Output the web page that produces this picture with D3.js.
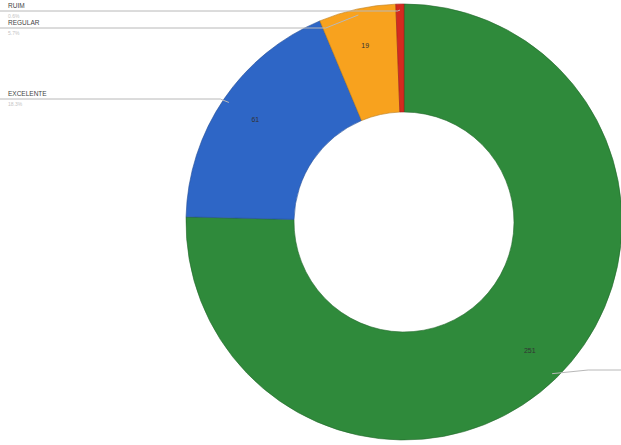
<!DOCTYPE html>
<html>
<head>
<meta charset="utf-8">
<script src="https://cdn.jsdelivr.net/npm/d3@7/dist/d3.min.js"></script>
<style>
  html, body { margin: 0; padding: 0; background: #fff; }
  svg { display: block; }
  text { font-family: "Liberation Sans", Arial, sans-serif; }
</style>
</head>
<body>
<svg id="chart" width="621" height="445"></svg>
<script>
// Survey answers, drawn clockwise from 12 o'clock
const categories = ["BOM", "EXCELENTE", "REGULAR", "RUIM"];
const counts = [251, 61, 19, 2];
const colors = ["#2f8a3b", "#2e66c6", "#f8a21e", "#d42a1f"];

// Layout of the ring and of the leader lines for the category names
const W = 621, H = 445;
const cx = 404, cy = 222;
const outerR = 218, innerR = 110, valueR = 180;
const nameSide = { BOM: "right", EXCELENTE: "left", REGULAR: "left", RUIM: "left" };
const nameY = { BOM: 370, EXCELENTE: 99, REGULAR: 28, RUIM: 11 };

const data = categories.map((c, i) => ({ category: c, value: counts[i], color: colors[i] }));
const total = d3.sum(counts);

const svg = d3.select("#chart");
const g = svg.append("g").attr("transform", `translate(${cx},${cy})`);

const pie = d3.pie().value(d => d.value).sort(null);
const arcs = pie(data);

const arc = d3.arc().innerRadius(innerR).outerRadius(outerR);
const valueArc = d3.arc().innerRadius(valueR).outerRadius(valueR);
const edgeArc = d3.arc().innerRadius(outerR - 6).outerRadius(outerR - 6);

g.selectAll("path.slice")
  .data(arcs)
  .join("path")
  .attr("class", "slice")
  .attr("d", arc)
  .attr("fill", d => d.data.color)
  .attr("stroke", d => d3.color(d.data.color).darker(0.8))
  .attr("stroke-width", 0.6);

// Value labels inside the ring (the smallest slice is too thin for one)
g.selectAll("text.value")
  .data(arcs.filter(d => d.value / total > 0.02))
  .join("text")
  .attr("class", "value")
  .attr("transform", d => `translate(${valueArc.centroid(d)})`)
  .attr("text-anchor", "middle")
  .attr("dominant-baseline", "middle")
  .attr("font-size", 7)
  .attr("fill", "#333")
  .text(d => d.value);

// Leader lines and category names
const labels = svg.append("g");
arcs.forEach(d => {
  const name = d.data.category;
  const [ex, ey] = edgeArc.centroid(d);
  const start = [cx + ex, cy + ey];
  const y = nameY[name];
  const left = nameSide[name] === "left";
  const bend = 2.5 * Math.abs(y - start[1]);
  const pts = left
    ? [start, [start[0] - bend, y], [0, y]]
    : [start, [start[0] + 36, y], [W, y]];
  labels.append("polyline")
    .attr("points", pts.map(p => p.join(",")).join(" "))
    .attr("fill", "none")
    .attr("stroke", "#b8b8b8")
    .attr("stroke-width", 1);
  if (left) {
    labels.append("text")
      .attr("x", 8).attr("y", y - 3)
      .attr("font-size", 6.5)
      .attr("fill", "#444")
      .text(name);
    labels.append("text")
      .attr("x", 8).attr("y", y + 7)
      .attr("font-size", 5)
      .attr("fill", "#c4c4c4")
      .text(d3.format(".1%")(d.value / total));
  }
});
</script>
</body>
</html>
